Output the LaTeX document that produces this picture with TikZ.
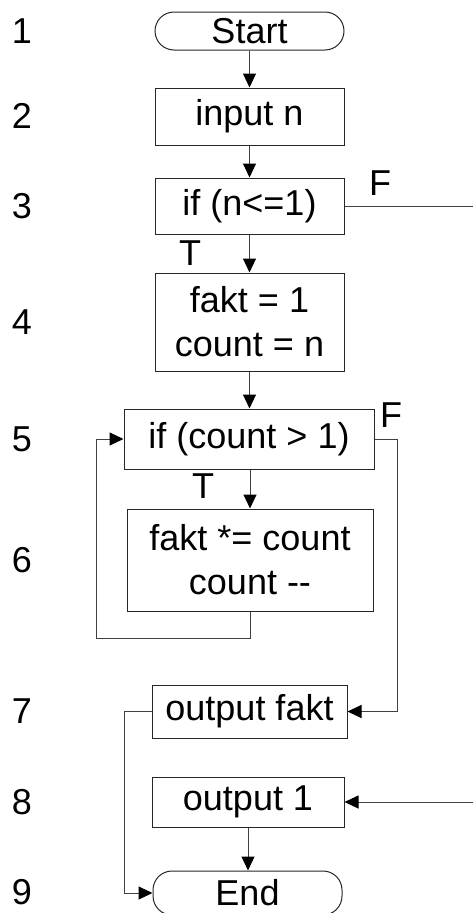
\documentclass[tikz,border=0pt]{standalone}
\usepackage{fontspec}
\setmainfont{Liberation Sans}
\usetikzlibrary{arrows.meta}
\tikzset{
  every node/.style={font=\fontsize{36}{44}\selectfont, inner sep=0pt},
  box/.style={draw=black!85, line width=1pt, rectangle, align=center},
  term/.style={box, rounded corners=19pt},
  conn/.style={draw=black!75, line width=1pt},
  arr/.style={conn, -{Triangle[length=14pt,width=13pt,color=black]}},
}
\begin{document}
\begin{tikzpicture}[x=1pt,y=-1pt]
\useasboundingbox (0,0) rectangle (473,913);
% boxes
\node[term, minimum width=189pt, minimum height=38pt] (start) at (249.5,31) {Start};
\node[box, minimum width=189pt, minimum height=57pt] (input) at (249.5,116.5) {input n};
\node[box, minimum width=189pt, minimum height=56pt] (if1) at (249.5,206) {if (n<=1)};
\node[box, minimum width=189pt, minimum height=98pt] (init) at (249.5,322) {fakt = 1\\count = n};
\node[box, minimum width=250pt, minimum height=60pt] (if2) at (249,439) {if (count > 1)};
\node[box, minimum width=246pt, minimum height=102pt] (body) at (250,560) {fakt *= count\\count \mbox{-}\mbox{-}};
\node[box, minimum width=195pt, minimum height=53pt] (outf) at (249.5,711.5) {output fakt};
\node[box, minimum width=192pt, minimum height=50pt] (out1) at (248,802) {output 1};
\node[term, minimum width=189pt, minimum height=44pt] (end) at (247.5,893) {End};
% labels
\node (F1) at (380,183) {F};
\node (T1) at (190,253) {T};
\node (T2) at (203,486) {T};
\node (F2) at (391,415) {F};
% row numbers
\node (n1) at (22,31) {1};
\node (n2) at (22,116) {2};
\node (n3) at (22,206) {3};
\node (n4) at (22,322) {4};
\node (n5) at (22,439) {5};
\node (n6) at (22,560) {6};
\node (n7) at (22,711) {7};
\node (n8) at (22,802) {8};
\node (n9) at (22,892) {9};
% coordinates
\coordinate (r1) at (473,206);
\coordinate (r2) at (473,802);
\coordinate (lp) at (96,638);
\coordinate (rp) at (397,439);
\coordinate (lq) at (124,711.5);
% connectors
\draw[arr] (start.south) -- (input.north);
\draw[arr] (input.south) -- (if1.north);
\draw[arr] (if1.south) -- (init.north);
\draw[arr] (init.south) -- (init.south |- if2.north);
\draw[arr] (body.north |- if2.south) -- (body.north);
\draw[conn] (if1.east) -- (r1);
\draw[arr] (r2) -- (out1.east);
\draw[arr] (body.south) |- (lp) |- (if2.west);
\draw[arr] (if2.east) -- (rp) |- (outf.east);
\draw[arr] (outf.west) -- (lq) |- (end.west);
\draw[arr] (out1.south) -- (out1.south |- end.north);
\end{tikzpicture}
\end{document}
